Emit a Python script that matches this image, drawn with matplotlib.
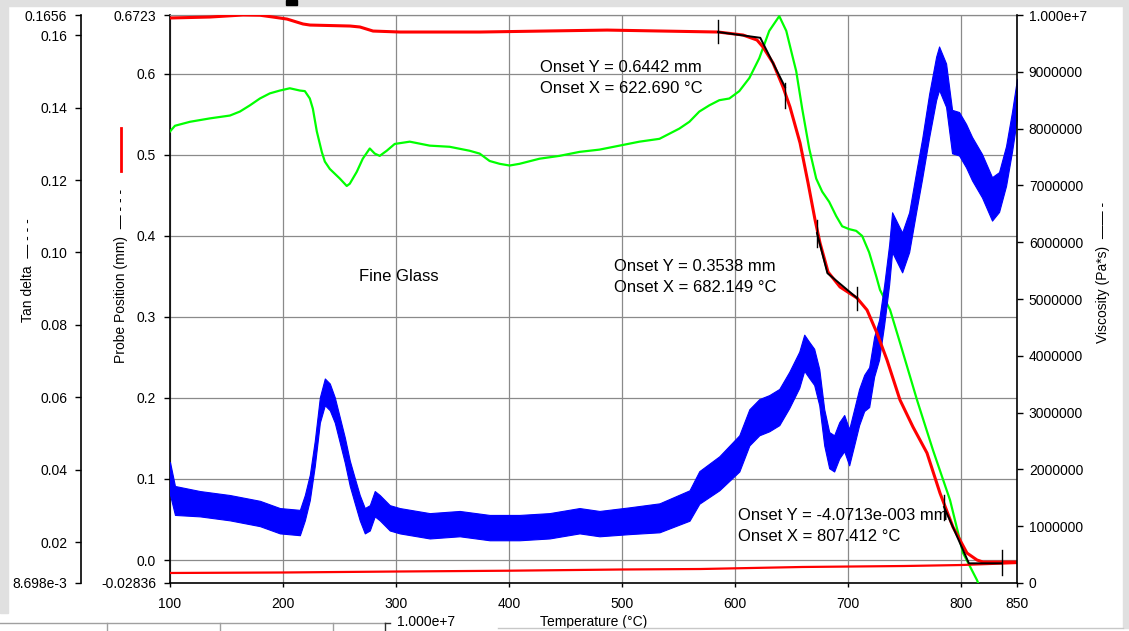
import matplotlib.pyplot as plt
from matplotlib.lines import Line2D
from matplotlib.patches import Rectangle

plt.rcParams['font.family'] = ['Liberation Sans', 'DejaVu Sans']

# --- data ---
# probe position (mm), red
probe_T = [100, 135.4, 164.6, 179.7, 191.2, 203.6, 217.8, 224, 259.4, 268.2, 279.8, 303.7,
           374.5, 487, 585.3, 607.4, 619.8, 625.1, 634, 642.8, 649, 657.9, 665, 671.2,
           675.6, 682.7, 693.3, 708.3, 717.2, 726, 734.9, 746.4, 757.9, 770.3, 781.8,
           793.3, 805.7, 814.6, 819.9, 850]
probe = [0.6686, 0.6698, 0.6723, 0.6720, 0.6698, 0.6673, 0.6612, 0.6599, 0.6587, 0.6575,
         0.6525, 0.6513, 0.6513, 0.6537, 0.6513, 0.6476, 0.6414, 0.6328, 0.6130, 0.5835,
         0.5588, 0.5144, 0.4650, 0.4194, 0.3910, 0.3553, 0.3368, 0.3232, 0.3084, 0.2800,
         0.2467, 0.1974, 0.1641, 0.1320, 0.0826, 0.0407, 0.0086, 0.0000, -0.0025, -0.0025]

# second probe trace along the bottom
base_T = [100, 200, 300, 400, 500, 570, 660, 750, 800, 850]
base = [-0.0160, -0.0154, -0.0142, -0.0132, -0.0117, -0.0111, -0.0086, -0.0074, -0.0062, -0.0037]

# tan delta, blue (centre of the noisy band and its half width)
tan_T = [100, 104.4, 126.5, 153, 179.6, 197.3, 215, 219.4, 223.8, 228.2, 232.7, 237.1,
         241.5, 245.9, 250.4, 254.8, 259.2, 263.6, 268, 272.5, 276.9, 281.3, 285.7, 294.6,
         303.4, 330, 356.5, 383, 409.5, 436, 462.6, 480.3, 506.8, 533.4, 560, 568.7, 586.4,
         604.1, 613, 621.8, 630.6, 639.5, 648.3, 657.2, 661.6, 666, 670.4, 674.9, 679.3,
         683.7, 688.1, 692.6, 697, 701.4, 705.8, 710.2, 714.7, 719.1, 723.5, 727.9, 732.4,
         736.8, 739.4, 748.3, 754.5, 760.7, 766, 772.2, 778.4, 781, 787.2, 792.5, 798.7,
         804.9, 810.2, 819, 827.9, 834.1, 840.3, 845.6, 850]
tan_mid = [0.0376, 0.0315, 0.0306, 0.0295, 0.0279, 0.0259, 0.0254, 0.0295, 0.0351, 0.0445,
           0.0565, 0.0615, 0.0601, 0.0565, 0.0509, 0.0454, 0.0390, 0.0342, 0.0295, 0.0259,
           0.0267, 0.0306, 0.0295, 0.0267, 0.0259, 0.0245, 0.0251, 0.0240, 0.0240, 0.0245,
           0.0259, 0.0251, 0.0259, 0.0267, 0.0301, 0.0351, 0.0390, 0.0445, 0.0517, 0.0545,
           0.0556, 0.0573, 0.0620, 0.0676, 0.0723, 0.0703, 0.0684, 0.0628, 0.0517, 0.0454,
           0.0445, 0.0481, 0.0501, 0.0462, 0.0517, 0.0573, 0.0612, 0.0628, 0.0712, 0.0759,
           0.0856, 0.0967, 0.1056, 0.1000, 0.1056, 0.1167, 0.1259, 0.1378, 0.1481, 0.1509,
           0.1462, 0.1334, 0.1328, 0.1295, 0.1259, 0.1212, 0.1148, 0.1167, 0.1239, 0.1334,
           0.1425]
tan_spread = [0.0045, 0.004, 0.0035, 0.0035, 0.0035, 0.0035, 0.0035, 0.0035, 0.0035, 0.0035,
              0.0035, 0.0037, 0.0037, 0.0035, 0.0035, 0.0035, 0.0035, 0.0035, 0.0035, 0.0035,
              0.0035, 0.0035, 0.0035, 0.0035, 0.0035, 0.0035, 0.0035, 0.0035, 0.0035, 0.0035,
              0.0035, 0.0035, 0.0037, 0.004, 0.0042, 0.0045, 0.0047, 0.005, 0.005, 0.005,
              0.005, 0.005, 0.005, 0.005, 0.005, 0.005, 0.005, 0.005, 0.005, 0.005,
              0.005, 0.005, 0.005, 0.005, 0.005, 0.005, 0.005, 0.0055, 0.0055, 0.0055,
              0.0055, 0.0055, 0.0055, 0.0055, 0.0055, 0.0055, 0.0055, 0.006, 0.006, 0.006,
              0.006, 0.006, 0.006, 0.006, 0.006, 0.006, 0.006, 0.0055, 0.0055, 0.0055,
              0.0055]

# viscosity (Pa*s, in millions), green
visc_T = [100, 104.4, 117.7, 135.4, 153.1, 161.9, 170.8, 179.6, 188.4, 197.3, 206.1, 215,
          219.4, 223.8, 226.5, 230, 234.4, 237.1, 241.5, 250.4, 256.5, 259.2, 265.4, 270.7,
          276.9, 281.3, 285.7, 291.9, 299, 312.3, 330, 347.6, 365.3, 374.2, 383, 391.9,
          400.7, 409.5, 427.2, 444.9, 462.6, 480.3, 498, 515.7, 533.4, 551, 559.9, 568.7,
          577.6, 586.4, 595.3, 604.1, 613, 621.8, 630.6, 639.5, 645.7, 651, 654.5, 659.8,
          666, 672.2, 677.5, 683.7, 689.9, 695.2, 701.4, 707.6, 712.9, 719.1, 725.5, 728.7,
          737.6, 746.4, 761.5, 775.6, 790.7, 802.2, 814.6, 818]
visc_m = [7.95, 8.05, 8.12, 8.18, 8.23, 8.30, 8.41, 8.53, 8.62, 8.67, 8.71, 8.67,
          8.66, 8.53, 8.35, 7.95, 7.59, 7.42, 7.29, 7.12, 6.99, 7.03, 7.24, 7.47,
          7.65, 7.56, 7.52, 7.61, 7.73, 7.77, 7.70, 7.68, 7.61, 7.56, 7.43, 7.38,
          7.35, 7.38, 7.47, 7.52, 7.59, 7.63, 7.70, 7.77, 7.82, 8.00, 8.12, 8.30,
          8.41, 8.50, 8.53, 8.66, 8.89, 9.24, 9.72, 9.98, 9.72, 9.29, 9.01, 8.35,
          7.65, 7.12, 6.89, 6.71, 6.46, 6.28, 6.23, 6.20, 6.11, 5.82, 5.39, 5.16,
          4.81, 4.23, 3.22, 2.34, 1.46, 0.53, 0.05, -0.12]

# onset construction lines (T, mm) and their end ticks
onset_lines = [
    ([585.3, 622.69, 644.6], [0.6513, 0.6442, 0.5834]),
    ([672.9, 682.149, 708.3], [0.4033, 0.3538, 0.3232]),
    ([785.4, 807.412, 836.7], [0.0654, -0.0040713, -0.0041]),
]
onset_ticks = [(585.3, 0.6377, 0.6661), (644.6, 0.5575, 0.5884),
               (672.9, 0.3861, 0.4194), (708.3, 0.3084, 0.3368),
               (785.4, 0.0494, 0.0802), (836.7, -0.0185, 0.0124)]

x_ticks = [100, 200, 300, 400, 500, 600, 700, 800, 850]
probe_ticks = [-0.02836, 0.0, 0.1, 0.2, 0.3, 0.4, 0.5, 0.6, 0.6723]
probe_labels = ['-0.02836', '0.0', '0.1', '0.2', '0.3', '0.4', '0.5', '0.6', '0.6723']
tan_ticks = [0.008698, 0.02, 0.04, 0.06, 0.08, 0.10, 0.12, 0.14, 0.16, 0.1656]
tan_labels = ['8.698e-3', '0.02', '0.04', '0.06', '0.08', '0.10', '0.12', '0.14', '0.16', '0.1656']
visc_ticks = [0, 1e6, 2e6, 3e6, 4e6, 5e6, 6e6, 7e6, 8e6, 9e6, 1e7]
visc_labels = ['0', '1000000', '2000000', '3000000', '4000000', '5000000', '6000000',
               '7000000', '8000000', '9000000', '1.000e+7']

# --- figure ---
W, H = 1129, 631
fig = plt.figure(figsize=(W / 100, H / 100), dpi=100)
fig.patch.set_facecolor('white')

ax = fig.add_axes([170 / W, 1 - 583 / H, 847 / W, 568 / H])
ax_tan = ax.twinx()
ax_v = ax.twinx()

ax.set_xlim(100, 850)
ax.set_ylim(-0.02836, 0.6723)
ax_tan.set_ylim(0.008698, 0.1656)
ax_v.set_ylim(0, 1e7)

grid_c = '#8a8a8a'
ax.grid(True, color=grid_c, lw=0.9)
ax.set_axisbelow(True)

# text sits under the curves
txt = dict(fontsize=12, va='center', ha='left', zorder=2)
ax.text(427.6, 0.6081, 'Onset Y = 0.6442 mm', **txt)
ax.text(427.6, 0.5822, 'Onset X = 622.690 °C', **txt)
ax.text(493.2, 0.3626, 'Onset Y = 0.3538 mm', **txt)
ax.text(493.2, 0.3367, 'Onset X = 682.149 °C', **txt)
ax.text(603.0, 0.0555, 'Onset Y = -4.0713e-003 mm', **txt)
ax.text(603.0, 0.0284, 'Onset X = 807.412 °C', **txt)
ax.text(267.4, 0.3503, 'Fine Glass', **txt)

# curves, all drawn in the base axes through each twin's scale
ax.plot(visc_T, [v * 1e6 for v in visc_m], color='#00ff00', lw=1.6, zorder=3,
        transform=ax_v.transData)
lo = [m - s for m, s in zip(tan_mid, tan_spread)]
hi = [m + s for m, s in zip(tan_mid, tan_spread)]
ax.fill_between(tan_T, lo, hi, color='#0000ff', lw=0.8, edgecolor='#0000ff', zorder=4,
                transform=ax_tan.transData)
ax.plot(probe_T, probe, color='#ff0000', lw=2.2, zorder=5, solid_capstyle='butt')
ax.plot(base_T, base, color='#ff0000', lw=1.6, zorder=5)
for xs, ys in onset_lines:
    ax.plot(xs, ys, color='black', lw=1.4, zorder=6)
for t, y0, y1 in onset_ticks:
    ax.plot([t, t], [y0, y1], color='black', lw=1.0, zorder=6)

# axes styling
ax.set_xticks(x_ticks)
ax.set_yticks(probe_ticks)
ax.set_yticklabels(probe_labels)
ax_tan.set_yticks(tan_ticks)
ax_tan.set_yticklabels(tan_labels)
ax_v.set_yticks(visc_ticks)
ax_v.set_yticklabels(visc_labels)

ax.spines['right'].set_visible(False)
ax.spines['top'].set_color(grid_c)
ax.spines['top'].set_linewidth(0.9)
ax.spines['left'].set_linewidth(1.2)
ax.spines['bottom'].set_linewidth(1.2)

for a in (ax_tan, ax_v):
    a.spines['top'].set_visible(False)
    a.spines['bottom'].set_visible(False)
ax_tan.spines['right'].set_visible(False)
ax_tan.spines['left'].set_position(('outward', 64))
ax_tan.spines['left'].set_linewidth(1.2)
ax_tan.yaxis.tick_left()
ax_v.spines['left'].set_visible(False)
ax_v.spines['right'].set_linewidth(1.2)

ax.tick_params(axis='y', length=4, width=1, pad=6, labelsize=10)
ax.tick_params(axis='x', length=3, width=1, pad=7, labelsize=10)
ax_tan.tick_params(axis='y', length=4, width=1, pad=6, labelsize=10)
ax_v.tick_params(axis='y', length=4.5, width=1, pad=4, labelsize=10)

ax.set_xlabel('Temperature (°C)', fontsize=10, labelpad=3)

# axis titles with their line samples
fig.text(28 / W, 1 - 270 / H, 'Tan delta  — - - -', rotation=90, fontsize=10,
         ha='center', va='center')
fig.text(121 / W, 1 - 276 / H, 'Probe Position (mm)  — - - -', rotation=90, fontsize=10,
         ha='center', va='center')
fig.text(1103 / W, 1 - 272 / H, 'Viscosity (Pa*s)  —— -', rotation=90, fontsize=10,
         ha='center', va='center')
fig.add_artist(Line2D([121 / W, 121 / W], [1 - 128 / H, 1 - 171 / H], color='#ff0000', lw=2))

# screenshot frame
gray = '#e0e0e0'
fig.add_artist(Rectangle((0, 1 - 6 / H), 1, 6 / H, transform=fig.transFigure,
                         color=gray, zorder=-1))
fig.add_artist(Rectangle((0, 1 - 613 / H), 8 / W, 613 / H, transform=fig.transFigure,
                         color=gray, zorder=-1))
fig.add_artist(Rectangle((1123 / W, 1 - 628 / H), 6 / W, 628 / H, transform=fig.transFigure,
                         color=gray, zorder=-1))
fig.add_artist(Rectangle((286 / W, 1 - 5 / H), 11 / W, 5 / H, transform=fig.transFigure,
                         color='black'))
fig.add_artist(Line2D([0, 385 / W], [1 - 623 / H] * 2, color='#a0a0a0', lw=1))
for xx in (107, 220, 333):
    fig.add_artist(Line2D([xx / W] * 2, [1 - 623 / H, 0], color='#a0a0a0', lw=1))
fig.add_artist(Line2D([385 / W] * 2, [1 - 623 / H, 0], color='#303030', lw=1))
fig.add_artist(Line2D([385 / W, 390 / W], [1 - 623 / H] * 2, color='#303030', lw=1))
fig.text(397 / W, 1 - 622 / H, '1.000e+7', fontsize=10, ha='left', va='center')
fig.add_artist(Line2D([498 / W, 1123 / W], [1 - 628 / H] * 2, color='#c8c8c8', lw=1))

fig.savefig('out.png', dpi=100)
